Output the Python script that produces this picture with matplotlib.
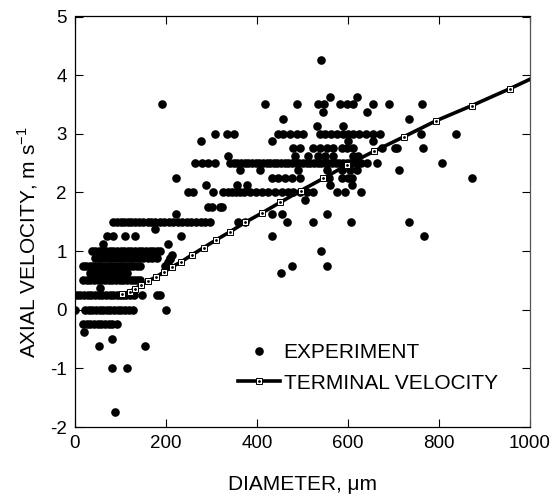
import matplotlib
matplotlib.use("Agg")
import matplotlib.pyplot as plt
from matplotlib.lines import Line2D
from matplotlib.legend_handler import HandlerTuple

plt.rcParams['font.family'] = ['Liberation Sans', 'DejaVu Sans']
plt.rcParams['axes.unicode_minus'] = False

# ---------------- data (diameter in um, velocity in m/s) ----------------
# experiment: dots grouped by the (quantised) axial velocity they sit on
v_4250 = [541]
v_3625 = [560, 620]
v_3500 = [192, 418, 487, 535, 548, 582, 597, 612, 656, 690, 763]
v_3375 = [544, 641]
v_3250 = [458, 734]
v_3125 = [532, 590]
v_3000 = [308, 334, 350, 447, 458, 473, 487, 502, 538, 550, 562, 575, 588, 600,
          612, 625, 640, 655, 670, 760, 837]
v_2875 = [277, 432, 601, 656]
v_2750 = [480, 495, 524, 538, 553, 568, 586, 597, 612, 675, 703, 708, 764]
v_2625 = [337, 484, 513, 533, 549, 568, 612, 623]
v_2500 = [264, 280, 292, 308, 341, 349, 357, 365, 373, 381, 389, 397, 405, 413,
          421, 429, 437, 445, 453, 461, 469, 477, 485, 493, 501, 509, 517, 525,
          533, 541, 549, 557, 565, 573, 581, 589, 597, 605, 613, 621, 629, 641,
          663, 806]
v_2375 = [363, 407, 491, 553, 586, 604, 619, 711]
v_2250 = [223, 432, 447, 462, 476, 495, 559, 586, 601, 608, 872]
v_2125 = [288, 355, 377, 560, 608]
v_2000 = [249, 260, 303, 326, 336, 345, 354, 362, 372, 385, 398, 410, 425, 440,
          455, 468, 480, 494, 509, 524, 575, 593, 629]
v_1875 = [505]
v_1750 = [293, 300, 319, 322]
v_1625 = [222, 432, 456, 553]
v_1500 = [84, 92, 100, 108, 116, 124, 132, 140, 150, 160, 168, 176, 186, 196,
          206, 216, 226, 236, 246, 256, 266, 276, 286, 296, 359, 374, 465, 522,
          606, 733]
v_1375 = [176]
v_1250 = [71, 84, 110, 132, 234, 434, 768]
v_1125 = [62, 205]
v_1000 = [37, 44, 52, 60, 68, 76, 84, 92, 100, 108, 116, 124, 132, 140, 148,
          156, 164, 172, 180, 187, 540]
v_0875 = [44, 52, 60, 68, 76, 84, 92, 100, 108, 116, 124, 132, 140, 150, 160,
          170, 180, 209]
v_0750 = [18, 25, 32, 40, 48, 56, 64, 72, 80, 88, 96, 104, 112, 120, 128, 136,
          143, 198, 478, 553]
v_0625 = [33, 40, 48, 56, 64, 72, 80, 88, 96, 104, 114, 452]
v_0500 = [18, 26, 34, 42, 50, 58, 66, 74, 82, 90, 98, 106, 114, 122, 130, 136,
          143]
v_0375 = [55]
v_0250 = [4, 12, 20, 28, 36, 44, 52, 60, 68, 76, 84, 92, 99, 106, 113, 121,
          130, 147, 180, 187]
v_0000 = [0, 22, 30, 38, 46, 54, 62, 70, 78, 86, 94, 102, 110, 118, 128, 201]
v_m0250 = [18, 26, 34, 42, 50, 58, 66, 74, 82, 92]
v_m0375 = [20]
v_m0500 = [81]
v_m0625 = [53, 154]
v_m1000 = [82, 114]
v_m1750 = [88]
# a few scattered points in the streak near 200 um
streak_d = [200, 205, 209, 213]
streak_v = [0.75, 0.81, 0.87, 0.94]

bands = [(4.25, v_4250), (3.625, v_3625), (3.5, v_3500), (3.375, v_3375),
         (3.25, v_3250), (3.125, v_3125), (3.0, v_3000), (2.875, v_2875),
         (2.75, v_2750), (2.625, v_2625), (2.5, v_2500), (2.375, v_2375),
         (2.25, v_2250), (2.125, v_2125), (2.0, v_2000), (1.875, v_1875),
         (1.75, v_1750), (1.625, v_1625), (1.5, v_1500), (1.375, v_1375),
         (1.25, v_1250), (1.125, v_1125), (1.0, v_1000), (0.875, v_0875),
         (0.75, v_0750), (0.625, v_0625), (0.5, v_0500), (0.375, v_0375),
         (0.25, v_0250), (0.0, v_0000), (-0.25, v_m0250), (-0.375, v_m0375),
         (-0.5, v_m0500), (-0.625, v_m0625), (-1.0, v_m1000), (-1.75, v_m1750)]

exp_d, exp_v = [], []
for v, ds in bands:
    exp_d += ds
    exp_v += [v] * len(ds)
exp_d += streak_d
exp_v += streak_v

# terminal velocity curve (marker points), last point = line end at axis
term_d = [103, 120, 132, 146, 161, 178, 195, 213, 234, 258, 283, 310, 341,
          374, 411, 451, 496, 546, 598, 657, 723, 793, 872, 956, 1000]
term_v = [0.26, 0.31, 0.36, 0.42, 0.49, 0.56, 0.64, 0.73, 0.82, 0.94, 1.06,
          1.19, 1.33, 1.49, 1.65, 1.83, 2.03, 2.24, 2.47, 2.70, 2.95, 3.22,
          3.48, 3.77, 3.93]

x_ticks = [0, 200, 400, 600, 800, 1000]
y_ticks = [-2, -1, 0, 1, 2, 3, 4, 5]

# ---------------- figure ----------------
W, H = 553, 498
fig = plt.figure(figsize=(W / 100, H / 100), dpi=100)
ax = fig.add_axes([75 / W, 1 - 427 / H, 455 / W, 410.5 / H])

DOT_MS = 6.2
SQ = dict(marker='s', markersize=4.8, markerfacecolor='white',
          markeredgecolor='black', markeredgewidth=0.7)

ax.plot(exp_d, exp_v, linestyle='none', marker='o', markersize=DOT_MS,
        color='black', markeredgewidth=0, zorder=2)
nm = len(term_d) - 1
ax.plot(term_d, term_v, color='black', linewidth=2.6,
        markevery=list(range(nm)), zorder=3, **SQ)
ax.plot(term_d[:nm], term_v[:nm], linestyle='none', marker='o',
        markersize=1.0, color='black', zorder=4)

ax.set_xlim(0, 1000)
ax.set_ylim(-2, 5)
ax.set_xticks(x_ticks)
ax.set_yticks(y_ticks)
ax.tick_params(direction='in', length=6, width=0.8, top=True, right=True,
               labelsize=13.5, pad=6)
for s in ax.spines.values():
    s.set_linewidth(0.9)
ax.spines['right'].set_color('#555555')

ax.set_xlabel('DIAMETER, μm', fontsize=15, labelpad=16)
ax.set_ylabel('AXIAL VELOCITY, m s$^{\\mathregular{-1}}$', fontsize=15)
ax.yaxis.set_label_coords(-0.078, 0.45)

exp_proxy = Line2D([], [], linestyle='none', marker='o', markersize=DOT_MS,
                   color='black', markeredgewidth=0)
term_proxy = Line2D([], [], color='black', linewidth=2.6, **SQ)
cen_proxy = Line2D([], [], linestyle='none', marker='o', markersize=1.0,
                   color='black')
ax.legend([exp_proxy, (term_proxy, cen_proxy)], ['EXPERIMENT', 'TERMINAL VELOCITY'],
          handler_map={tuple: HandlerTuple(ndivide=1, pad=0)},
          loc='center left', bbox_to_anchor=(0.358, 0.144), frameon=False,
          fontsize=15, borderpad=0, borderaxespad=0, handlelength=2.0,
          handletextpad=0.2, labelspacing=0.55, numpoints=1)

fig.savefig('out.png', dpi=100)
